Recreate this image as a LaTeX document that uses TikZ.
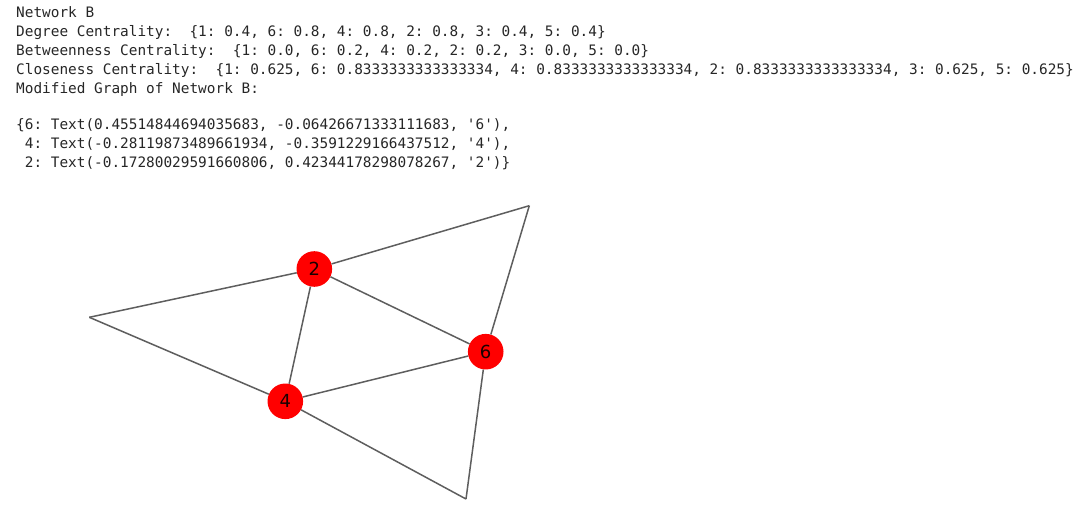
\documentclass[tikz,border=0pt]{standalone}
\usepackage{fontspec}
\setmainfont{DejaVu Sans}
\setmonofont{DejaVu Sans Mono}
\definecolor{edgegray}{HTML}{5E5E5E}
\begin{document}
\begin{tikzpicture}[x=1pt,y=1pt,
  txt/.style={anchor=base west,inner sep=0pt,font=\ttfamily\fontsize{14.4}{19}\selectfont,text=black!85},
  vert/.style={circle,fill=red,minimum size=35.6pt,inner sep=0pt,font=\fontsize{18}{18}\selectfont,text=black!90!red},
  edge/.style={draw=edgegray,line width=1.5pt}]
\useasboundingbox (0,0) rectangle (1083,514);
% text
\node[txt] (t1) at (16,496) {Network B};
\node[txt] (t2) at (16,477) {Degree Centrality:\ \ \{1: 0.4, 6: 0.8, 4: 0.8, 2: 0.8, 3: 0.4, 5: 0.4\}};
\node[txt] (t3) at (16,458) {Betweenness Centrality:\ \ \{1: 0.0, 6: 0.2, 4: 0.2, 2: 0.2, 3: 0.0, 5: 0.0\}};
\node[txt] (t4) at (16,439) {Closeness Centrality:\ \ \{1: 0.625, 6: 0.8333333333333334, 4: 0.8333333333333334, 2: 0.8333333333333334, 3: 0.625, 5: 0.625\}};
\node[txt] (t5) at (16,420) {Modified Graph of Network B:};
\node[txt] (t6) at (16,384) {\{6: Text(0.45514844694035683, -0.06426671333111683, '6'),};
\node[txt] (t7) at (16,365) {~4: Text(-0.28119873489661934, -0.3591229166437512, '4'),};
\node[txt] (t8) at (16,346) {~2: Text(-0.17280029591660806, 0.42344178298078267, '2')\}};
% graph
\coordinate (tr) at (529.3,308.3);
\coordinate (lf) at (89.3,196.7);
\coordinate (bt) at (466,15);
\node[vert] (n2) at (314.3,245) {2};
\node[vert] (n6) at (485.7,162.3) {6};
\node[vert] (n4) at (285.3,112.7) {4};
\draw[edge] (n2) -- (tr);
\draw[edge] (n2) -- (lf);
\draw[edge] (n2) -- (n6);
\draw[edge] (n2) -- (n4);
\draw[edge] (n4) -- (lf);
\draw[edge] (n4) -- (n6);
\draw[edge] (n4) -- (bt);
\draw[edge] (n6) -- (tr);
\draw[edge] (n6) -- (bt);
\end{tikzpicture}
\end{document}
